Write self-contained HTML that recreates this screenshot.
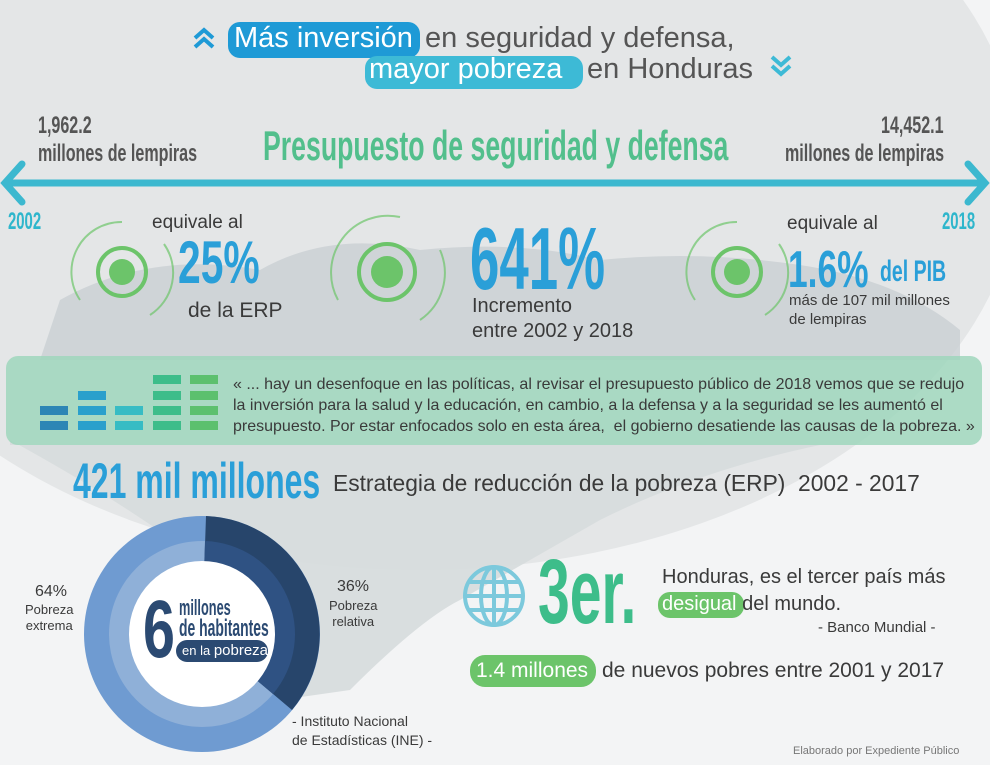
<!DOCTYPE html>
<html><head><meta charset="utf-8"><style>
*{margin:0;padding:0;box-sizing:border-box}
body{width:990px;height:765px;overflow:hidden;background:#f3f4f5;font-family:"Liberation Sans",sans-serif;position:relative}
.a{position:absolute;white-space:nowrap}
.n{font-family:"Liberation Sans Narrow","Liberation Sans",sans-serif;font-weight:bold;transform-origin:0 0}
.g{color:#3a3a3a}
</style></head><body>
<svg class="a" style="left:0;top:0" width="990" height="765">
<ellipse cx="420" cy="170" rx="600" ry="400" fill="#e4e6e7"/>
<path d="M60 300 Q150 250 260 270 Q330 230 420 250 Q520 240 600 260 Q700 250 800 265 Q900 280 960 330 L960 360 L40 360 Z" fill="#c9d0d3" opacity="0.8"/>
<path d="M10 440 Q120 500 200 560 L280 700 L350 690 Q420 620 460 600 Q530 560 600 520 Q700 470 820 445 L10 445Z" fill="#d6dbdd" opacity="0.9"/>
<path d="M6 183 L985 183" stroke="#3cb8cf" stroke-width="7"/>
<path d="M22 164 L5 183 L22 202 M968 164 L985 183 L968 202" stroke="#3cb8cf" stroke-width="7" fill="none" stroke-linecap="round"/>
<path d="M195 38 L204 30 L213 38 M195 47 L204 39 L213 47" stroke="#1e9ad6" stroke-width="4" fill="none"/>
<path d="M772 57 L781 65 L790 57 M772 66 L781 74 L790 66" stroke="#3dbad6" stroke-width="4" fill="none"/>
<rect x="6" y="356" width="976" height="89" rx="12" fill="#9fd6bc" opacity="0.85"/>
<g>
<rect x="40" y="406" width="28" height="9" fill="#2d86b5"/><rect x="40" y="421" width="28" height="9" fill="#2d86b5"/>
<rect x="78" y="391" width="28" height="9" fill="#2aa0cc"/><rect x="78" y="406" width="28" height="9" fill="#2aa0cc"/><rect x="78" y="421" width="28" height="9" fill="#2aa0cc"/>
<rect x="115" y="406" width="28" height="9" fill="#37bcc4"/><rect x="115" y="421" width="28" height="9" fill="#37bcc4"/>
<rect x="153" y="375" width="28" height="9" fill="#3dbd8a"/><rect x="153" y="391" width="28" height="9" fill="#3dbd8a"/><rect x="153" y="406" width="28" height="9" fill="#3dbd8a"/><rect x="153" y="421" width="28" height="9" fill="#3dbd8a"/>
<rect x="190" y="375" width="28" height="9" fill="#5cc06e"/><rect x="190" y="391" width="28" height="9" fill="#5cc06e"/><rect x="190" y="406" width="28" height="9" fill="#5cc06e"/><rect x="190" y="421" width="28" height="9" fill="#5cc06e"/>
</g>
<g fill="none" stroke="#6cc46a">
<circle cx="122" cy="272" r="24" stroke-width="4"/><circle cx="122" cy="272" r="13" fill="#6cc46a" stroke="none"/>
<path d="M80 300 A50 50 0 0 1 122 222" stroke-width="2" opacity=".7"/><path d="M164 244 A50 50 0 0 1 150 315" stroke-width="2" opacity=".7"/>
<circle cx="387" cy="272" r="28" stroke-width="4"/><circle cx="387" cy="272" r="16" fill="#6cc46a" stroke="none"/>
<path d="M338 300 A57 57 0 0 1 400 217" stroke-width="2" opacity=".7"/><path d="M440 250 A57 57 0 0 1 420 320" stroke-width="2" opacity=".7"/>
<circle cx="737" cy="272" r="24" stroke-width="4"/><circle cx="737" cy="272" r="13" fill="#6cc46a" stroke="none"/>
<path d="M695 300 A50 50 0 0 1 737 222" stroke-width="2" opacity=".7"/><path d="M779 244 A50 50 0 0 1 765 315" stroke-width="2" opacity=".7"/>
</g>
<circle cx="202" cy="634" r="118" fill="#6f9bd1"/>
<circle cx="202" cy="634" r="93" fill="#8fb0d8"/>
<path d="M202 634 L206 516 A118 118 0 0 1 292 710 Z" fill="#27456b"/>
<path d="M202 634 L205 541 A93 93 0 0 1 273 694 Z" fill="#2f5283"/>
<circle cx="202" cy="634" r="73" fill="#fff"/>
<rect x="176" y="640" width="92" height="22" rx="11" fill="#2b4a72"/>
<rect x="228" y="22" width="192" height="36" rx="12" fill="#1e9ad6"/>
<rect x="365" y="56" width="218" height="33" rx="12" fill="#3dbad6"/>
<rect x="658" y="592" width="86" height="26" rx="12" fill="#6cc46a"/>
<rect x="470" y="655" width="126" height="32" rx="15" fill="#6cc46a"/>
<g stroke="#7cc9dc" stroke-width="4" fill="none"><circle cx="494" cy="596" r="29"/><ellipse cx="494" cy="596" rx="13" ry="29"/><line x1="494" y1="567" x2="494" y2="625"/><line x1="465" y1="596" x2="523" y2="596"/><line x1="469" y1="582" x2="519" y2="582"/><line x1="469" y1="610" x2="519" y2="610"/></g>
</svg>
<div class="a" style="left:234px;top:22px;font-size:29px;color:#fff">Más inversión</div>
<div class="a" style="left:425px;top:22px;font-size:29px;color:#555">en seguridad y defensa,</div>
<div class="a" style="left:369px;top:53px;font-size:29px;color:#fff">mayor pobreza</div>
<div class="a" style="left:587px;top:53px;font-size:29px;color:#555">en Honduras</div>
<div class="a n" style="left:38px;top:112px;font-size:24px;color:#555;transform:scaleX(.67)">1,962.2</div>
<div class="a n" style="left:38px;top:140px;font-size:24px;color:#555;transform:scaleX(.67)">millones de lempiras</div>
<div class="a n" style="left:881px;top:112px;font-size:24px;color:#555;transform:scaleX(.67)">14,452.1</div>
<div class="a n" style="left:785px;top:140px;font-size:24px;color:#555;transform:scaleX(.67)">millones de lempiras</div>
<div class="a n" style="left:263px;top:122px;font-size:42px;color:#52bf8c;transform:scaleX(.635)">Presupuesto de seguridad y defensa</div>
<div class="a n" style="left:8px;top:208px;font-size:24px;color:#2fb6cc;transform:scaleX(.62)">2002</div>
<div class="a n" style="left:942px;top:208px;font-size:24px;color:#2fb6cc;transform:scaleX(.62)">2018</div>
<div class="a g" style="left:152px;top:212px;font-size:19px">equivale al</div>
<div class="a n" style="left:178px;top:228px;font-size:60px;color:#2a9fd8;transform:scaleX(.68)">25%</div>
<div class="a g" style="left:188px;top:299px;font-size:21px">de la ERP</div>
<div class="a n" style="left:470px;top:208px;font-size:88px;color:#2a9fd8;transform:scaleX(.6)">641%</div>
<div class="a g" style="left:472px;top:295px;font-size:20px">Incremento</div>
<div class="a g" style="left:472px;top:320px;font-size:20px">entre 2002 y 2018</div>
<div class="a g" style="left:787px;top:213px;font-size:19px">equivale al</div>
<div class="a n" style="left:788px;top:240px;font-size:52px;color:#2a9fd8;transform:scaleX(.68)">1.6%</div>
<div class="a n" style="left:880px;top:255px;font-size:30px;color:#2a9fd8;transform:scaleX(.65)">del PIB</div>
<div class="a g" style="left:789px;top:292px;font-size:15px">más de 107 mil millones</div>
<div class="a g" style="left:789px;top:311px;font-size:15px">de lempiras</div>
<div class="a g" style="left:233px;top:374px;font-size:16px;line-height:21px">« ... hay un desenfoque en las políticas, al revisar el presupuesto público de 2018 vemos que se redujo<br>la inversión para la salud y la educación, en cambio, a la defensa y a la seguridad se les aumentó el<br>presupuesto. Por estar enfocados solo en esta área,&nbsp; el gobierno desatiende las causas de la pobreza. »</div>
<div class="a n" style="left:73px;top:452px;font-size:50px;color:#2a9fd8;transform:scaleX(.64)">421 mil millones</div>
<div class="a g" style="left:333px;top:470px;font-size:22.8px">Estrategia de reducción de la pobreza (ERP)&nbsp; 2002 - 2017</div>
<div class="a g" style="left:35px;top:583px;font-size:16px">64%</div>
<div class="a g" style="left:25px;top:602px;font-size:13px;text-align:center;line-height:16px">Pobreza<br>extrema</div>
<div class="a g" style="left:337px;top:578px;font-size:16px">36%</div>
<div class="a g" style="left:329px;top:598px;font-size:13px;text-align:center;line-height:16px">Pobreza<br>relativa</div>
<div class="a n" style="left:143px;top:583px;font-size:82px;color:#2b4a72;transform:scaleX(.7)">6</div>
<div class="a n" style="left:179px;top:595px;font-size:22px;color:#2b4a72;transform:scaleX(.58)">millones</div>
<div class="a n" style="left:179px;top:615px;font-size:24px;color:#2b4a72;transform:scaleX(.58)">de habitantes</div>
<div class="a" style="left:182px;top:642px;font-size:13px;color:#fff">en la <span style="font-size:15px">pobreza</span></div>
<div class="a g" style="left:292px;top:712px;font-size:14px;line-height:19px">- Instituto Nacional<br>de Estadísticas (INE) -</div>
<div class="a n" style="left:538px;top:540px;font-size:92px;color:#3dbd8a;transform:scaleX(.62)">3er.</div>
<div class="a g" style="left:662px;top:566px;font-size:20px">Honduras, es el tercer país más</div>
<div class="a" style="left:662px;top:593px;font-size:20px;color:#fff">desigual<span style="color:#3a3a3a"> del mundo.</span></div>
<div class="a g" style="left:818px;top:619px;font-size:15px">- Banco Mundial -</div>
<div class="a" style="left:476px;top:659px;font-size:21px;color:#fff">1.4 millones</div>
<div class="a g" style="left:602px;top:659px;font-size:21px">de nuevos pobres entre 2001 y 2017</div>
<div class="a" style="left:793px;top:745px;font-size:11px;color:#777">Elaborado por Expediente Público</div>
</body></html>
